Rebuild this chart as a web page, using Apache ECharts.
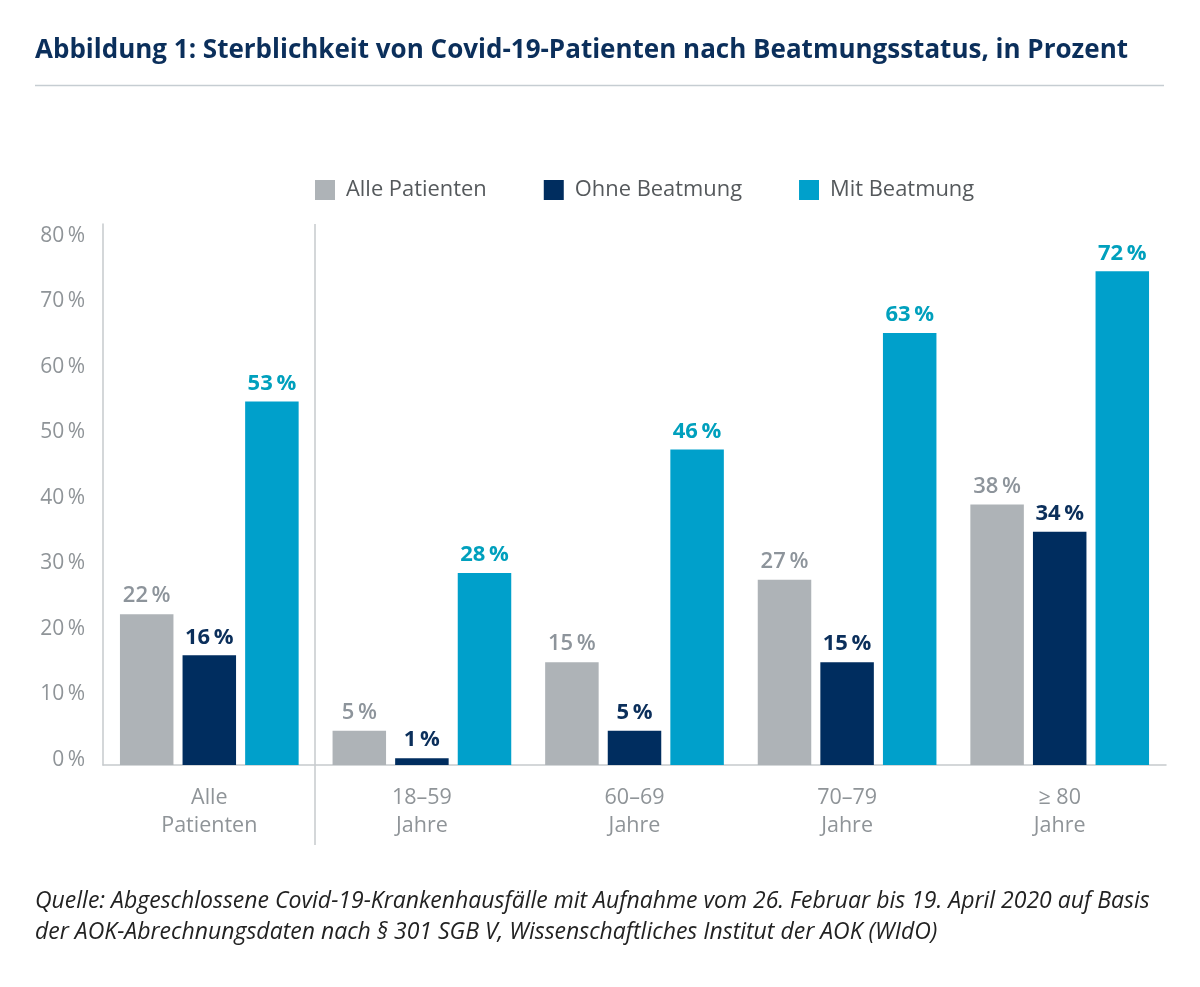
<!DOCTYPE html>
<html>
<head>
    <meta charset="utf-8">
    <title>Sterblichkeit von Covid-19-Patienten</title>
    <script src="https://cdn.jsdelivr.net/npm/echarts@6/dist/echarts.min.js"></script>
    <style>
        html, body { margin: 0; background: #fff; }
    </style>
</head>
<body>
    <div id="main" style="width: 1200px;height:987px;"></div>
    <script type="text/javascript">
        var categories = ['Alle\nPatienten', '18–59\nJahre', '60–69\nJahre', '70–79\nJahre', '≥ 80\nJahre'];
        var tickValues = ['0', '10', '20', '30', '40', '50', '60', '70', '80'];
        var alle = [22, 5, 15, 27, 38];
        var ohne = [16, 1, 5, 15, 34];
        var mit = [53, 28, 46, 63, 72];

        var FONT = '"Open Sans", sans-serif';
        var GREY = '#aeb3b7', NAVY = '#002d5f', BLUE = '#00a0cb';
        var LINE = '#c6cacd';

        function barSeries(name, data, color, labelColor, labelWeight) {
            return {
                name: name,
                type: 'bar',
                xAxisIndex: 0,
                yAxisIndex: 0,
                data: data,
                barWidth: 53.5,
                barGap: '17%',
                itemStyle: { color: color },
                label: {
                    show: true,
                    position: 'top',
                    distance: 7,
                    formatter: '{c}\u2009%',
                    fontFamily: FONT,
                    fontWeight: labelWeight,
                    fontSize: 22,
                    color: labelColor
                }
            };
        }

        var myChart = echarts.init(document.getElementById('main'));

        var option = {
            animation: false,
            backgroundColor: '#fff',
            title: [{
                text: 'Abbildung 1: Sterblichkeit von Covid-19-Patienten nach Beatmungsstatus, in Prozent',
                left: 30,
                top: 33,
                textStyle: { fontFamily: FONT, fontWeight: 700, fontSize: 26, color: '#0b2f5b' }
            }, {
                text: 'Quelle: Abgeschlossene Covid-19-Krankenhausfälle mit Aufnahme vom 26. Februar bis 19. April 2020 auf Basis\nder AOK-Abrechnungsdaten nach § 301 SGB V, Wissenschaftliches Institut der AOK (WIdO)',
                left: 30,
                top: 881,
                textStyle: { fontFamily: FONT, fontStyle: 'italic', fontWeight: 400, fontSize: 23, lineHeight: 31, color: '#222' }
            }],
            legend: {
                left: 310,
                top: 174,
                itemWidth: 20,
                itemHeight: 20,
                itemGap: 57,
                icon: 'rect',
                textStyle: { fontFamily: FONT, fontSize: 21.9, color: '#55595c', padding: [8, 0, 0, 6] },
                data: ['Alle Patienten', 'Ohne Beatmung', 'Mit Beatmung']
            },
            // bars sit on grid 0; the printed tick labels have a slightly different spacing, so grid 1 carries them
            grid: [
                { left: 103, top: 224, width: 1063, height: 541 },
                { left: 103, top: 236, width: 1063, height: 524 }
            ],
            xAxis: [{
                type: 'category',
                gridIndex: 0,
                data: categories,
                axisLine: { lineStyle: { color: LINE, width: 1.5 } },
                axisTick: { show: false },
                axisLabel: {
                    margin: 19,
                    fontFamily: FONT,
                    fontSize: 21.5,
                    lineHeight: 28,
                    color: '#8f9498'
                }
            }, {
                type: 'category',
                gridIndex: 1,
                show: false,
                data: categories
            }],
            yAxis: [{
                type: 'value',
                gridIndex: 0,
                min: 0,
                max: 78.9,
                axisLine: { show: true, lineStyle: { color: LINE, width: 1.5 } },
                axisTick: { show: false },
                axisLabel: { show: false },
                splitLine: { show: false }
            }, {
                type: 'value',
                gridIndex: 1,
                min: 0,
                max: 80,
                interval: 10,
                axisLine: { show: false },
                axisTick: { show: false },
                splitLine: { show: false },
                axisLabel: {
                    margin: 18,
                    fontFamily: FONT,
                    fontSize: 21,
                    color: '#8f9498',
                    formatter: function (v) {
                        return tickValues[tickValues.indexOf(String(v))] + '\u2009%';
                    }
                }
            }],
            series: [
                barSeries('Alle Patienten', alle, GREY, '#8d949b', 600),
                barSeries('Ohne Beatmung', ohne, NAVY, '#0b2f5b', 700),
                barSeries('Mit Beatmung', mit, BLUE, '#00a0bd', 700)
            ],
            graphic: [{
                // rule under the headline
                type: 'line',
                shape: { x1: 35, y1: 85.5, x2: 1164, y2: 85.5 },
                style: { stroke: '#c6cdd2', lineWidth: 1.5 }
            }, {
                // separator between "Alle Patienten" and the age groups
                type: 'line',
                shape: { x1: 315, y1: 224, x2: 315, y2: 845 },
                style: { stroke: LINE, lineWidth: 1.5 }
            }]
        };

        myChart.setOption(option);
    </script>
</body>
</html>
